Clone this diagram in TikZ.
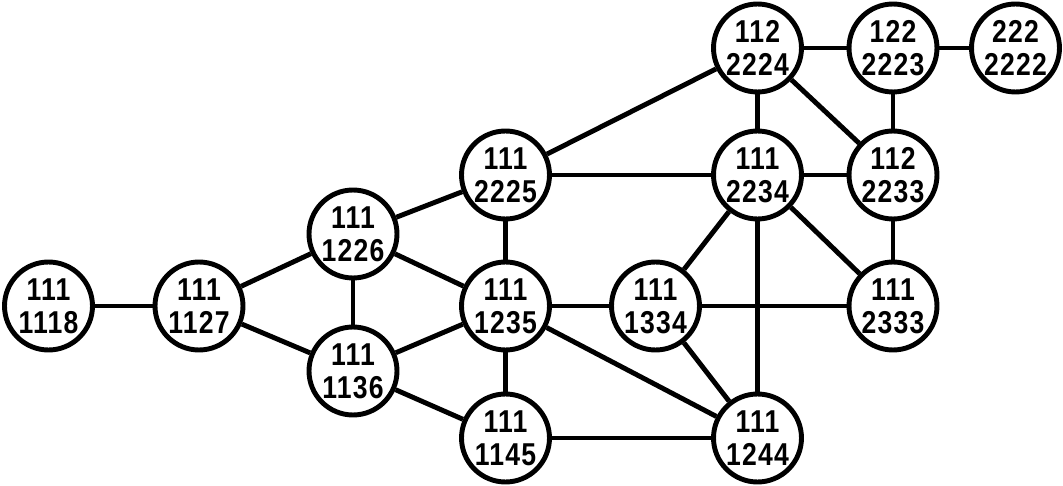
\documentclass[tikz,border=0pt]{standalone}
\usepackage{fontspec}
\setmainfont{Liberation Sans}
\newfontfamily\statefont[FakeStretch=0.84,LetterSpace=4]{Liberation Sans}
\usepackage{tikz}
\usetikzlibrary{
	positioning,
	calc
}

\begin{document}
\begin{tikzpicture}[
		x=0.02cm,
		y=-0.02cm,
		state/.style={
			circle,
			draw,
			line width=2.8pt,
			minimum size=1.76cm,
			inner sep=0pt,
			align=center,
			font=\statefont\fontsize{18}{19}\selectfont\bfseries
		},
		link/.style={
			line width=2.8pt
		}
		]
		
		\useasboundingbox (0,0) rectangle (1063,486);
		
		% Left part
		\node[state] (n1118) at (48.5,306) {111\\1118};
		\node[state] (n1127) at (199,306) {111\\1127};
		\node[state] (n1226) at (353,234) {111\\1226};
		\node[state] (n1136) at (353,371) {111\\1136};
		
		% Middle
		\node[state] (n2225) at (505.5,175) {111\\2225};
		\node[state] (n1235) at (505.5,306) {111\\1235};
		\node[state] (n1145) at (505.5,438) {111\\1145};
		\node[state] (n1334) at (655.5,306) {111\\1334};
		
		% Right part
		\node[state] (n2224) at (757.5,48) {112\\2224};
		\node[state] (n2234) at (757.5,175) {111\\2234};
		\node[state] (n1244) at (757.5,438) {111\\1244};
		\node[state] (n2223) at (893,48) {122\\2223};
		\node[state] (n2233) at (893,175) {112\\2233};
		\node[state] (n2333) at (893,306) {111\\2333};
		\node[state] (n2222) at (1015.5,48) {222\\2222};
		
		% Connections
		\foreach \a/\b in {
			n1118/n1127, n1127/n1226, n1127/n1136, n1226/n1136,
			n1226/n2225, n1226/n1235, n1136/n1235, n1136/n1145,
			n2225/n1235, n2225/n2224, n2225/n2234,
			n1235/n1145, n1235/n1334, n1235/n1244, n1145/n1244,
			n1334/n2234, n1334/n1244, n1334/n2333,
			n2234/n1244, n2234/n2233, n2234/n2333, n2234/n2224,
			n2224/n2223, n2224/n2233, n2223/n2233, n2223/n2222,
			n2233/n2333}
		{
			\draw[link] (\a) -- (\b);
		}
		
	\end{tikzpicture}
\end{document}
